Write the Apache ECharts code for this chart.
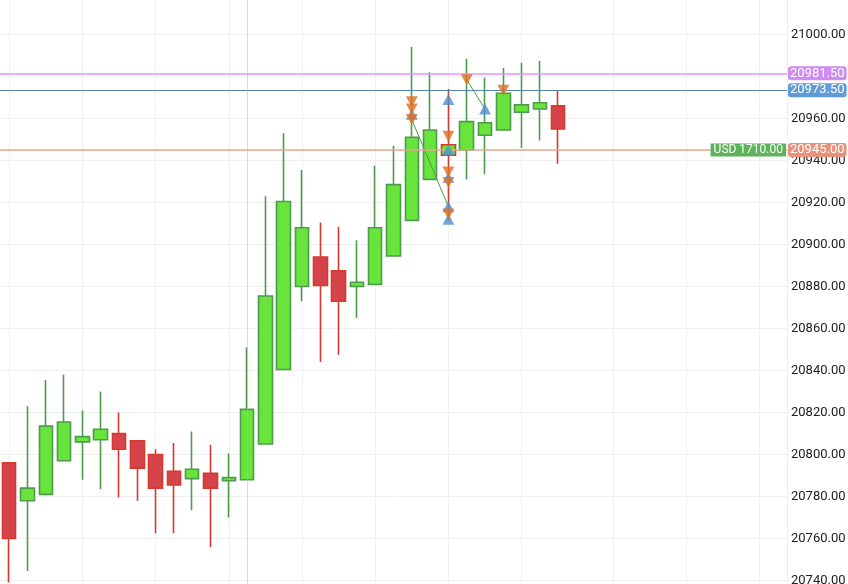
<!DOCTYPE html>
<html>
<head>
<meta charset="utf-8">
<script src="https://cdn.jsdelivr.net/npm/echarts@6/dist/echarts.min.js"></script>
<style>
html, body { margin: 0; padding: 0; background: #fff; }
#chart { width: 848px; height: 584px; }
</style>
</head>
<body>
<div id="chart"></div>
<script>
// candles: [open, close, low, high]
var candles = [
    [20796, 20760, 20739, 20796],
    [20778, 20784, 20744.5, 20823],
    [20781, 20813.5, 20780.5, 20835.5],
    [20797, 20815.5, 20797, 20838],
    [20806, 20808.5, 20788, 20821],
    [20807, 20812, 20783.5, 20830],
    [20810, 20802.5, 20779.5, 20820],
    [20806.5, 20793.5, 20778, 20806.5],
    [20800, 20784, 20762.5, 20802.5],
    [20792, 20785.5, 20762.5, 20805.5],
    [20788.5, 20793, 20773.5, 20811],
    [20791, 20784, 20756, 20804.5],
    [20787.5, 20789, 20770, 20800.5],
    [20788, 20821.5, 20788, 20851],
    [20805, 20875.5, 20805, 20923],
    [20840.5, 20920.5, 20840.5, 20953],
    [20880, 20908, 20873, 20935.5],
    [20894, 20880.5, 20844, 20910.5],
    [20887.5, 20873, 20847.5, 20908.5],
    [20880, 20882, 20865, 20902],
    [20881, 20908, 20881, 20937.5],
    [20894.5, 20928.5, 20894.5, 20947],
    [20911.5, 20951, 20911.5, 20994],
    [20931, 20954.5, 20931, 20982],
    [20942.5, 20947.5, 20911.5, 20974],
    [20945, 20958.5, 20931, 20988.5],
    [20952, 20958, 20933.5, 20979.5],
    [20954.5, 20972, 20954.5, 20984],
    [20963, 20966.5, 20946, 20986.5],
    [20964.5, 20967.5, 20949.5, 20987.5],
    [20966, 20955, 20938.5, 20973.5]
];
var redWick = [24];
var slotCount = 43;
var gridLineIdx = [0, 4, 8, 12, 16, 20, 24, 28, 33, 37, 41];
var crossIdx = 13;

// trade markers [index, price]
var buyMarks = [
    [22, 20962], [24, 20969], [24, 20945], [24, 20932], [24, 20918], [24, 20912],
    [26, 20964.5]
];
var sellMarks = [
    [22, 20968], [22, 20964.5], [22, 20959.5], [24, 20951.5], [24, 20934.5],
    [24, 20929.5], [24, 20914.5], [25, 20978.5], [27, 20973.5]
];
var tradeLine1 = [[22, 20959.5], [24, 20918]];
var tradeLine2 = [[25, 20978.5], [26, 20964.5]];

var askPrice = 20981.5;
var lastPrice = 20973.5;
var entryPrice = 20945;
var pnlText = 'USD 1710.00';

var yMin = 20720, yMax = 21020, yStep = 20;

var categories = [];
for (var i = 0; i < slotCount; i++) categories.push(String(i));

var candleData = candles.map(function (c, i) {
    if (redWick.indexOf(i) >= 0) {
        return { value: c, itemStyle: { borderColor: '#d8392c' } };
    }
    return { value: c };
});

var chart = echarts.init(document.getElementById('chart'));

var option = {
    animation: false,
    backgroundColor: '#ffffff',
    grid: { left: 0, right: 61, top: -7.5, bottom: -38.5, containLabel: false, outerBoundsMode: 'none' },
    xAxis: {
        type: 'category',
        data: categories,
        boundaryGap: true,
        axisLine: { show: false },
        axisTick: { show: false },
        axisLabel: { show: false },
        splitLine: { show: false }
    },
    yAxis: {
        type: 'value',
        position: 'right',
        min: yMin,
        max: yMax,
        interval: yStep,
        scale: true,
        axisLine: { show: true, lineStyle: { color: '#ededed' } },
        axisTick: { show: false },
        axisLabel: {
            margin: 4,
            color: '#222',
            fontFamily: 'Roboto',
            fontSize: 13,
            formatter: function (v) { return v.toFixed(2); }
        },
        splitLine: { lineStyle: { color: '#f0f0f0', width: 1 } }
    },
    series: [
        {
            // vertical grid lines
            type: 'line',
            data: [],
            silent: true,
            markLine: {
                z: 1,
                silent: true,
                symbol: 'none',
                label: { show: false },
                lineStyle: { color: '#f0f0f0', width: 1, type: 'solid' },
                data: gridLineIdx.map(function (k) { return { xAxis: k }; })
            }
        },
        {
            type: 'candlestick',
            data: candleData,
            barWidth: 14,
            clip: false,
            z: 2,
            itemStyle: {
                color: '#68e43d',
                color0: '#d5434b',
                borderColor: '#4e9b4b',
                borderColor0: '#d8392c',
                borderWidth: 1.6
            },
            markLine: {
                z: 5,
                silent: true,
                symbol: 'none',
                label: {
                    show: true,
                    position: 'end',
                    distance: 1,
                    color: '#fff',
                    fontFamily: 'Roboto',
                    fontSize: 13,
                    lineHeight: 13,
                    padding: [1, 2, 0, 2],
                    borderRadius: 3,
                    formatter: function (p) { return p.value.toFixed(2); }
                },
                data: [
                    { yAxis: askPrice, lineStyle: { color: '#d99af6', width: 1.5, type: 'solid' }, label: { backgroundColor: '#cf8cf2' } },
                    { yAxis: lastPrice, lineStyle: { color: '#5a84b0', width: 1, type: 'solid' }, label: { backgroundColor: '#5f9bd6' } },
                    { yAxis: entryPrice, lineStyle: { color: '#e9a590', width: 1.5, type: 'solid' }, label: { backgroundColor: '#e8927b' } },
                    { xAxis: crossIdx, lineStyle: { color: '#b8b8b8', width: 1, type: 'dotted' }, label: { show: false } }
                ]
            }
        },
        {
            type: 'line',
            data: tradeLine1,
            symbol: 'none',
            z: 4,
            lineStyle: { color: '#4e9b4b', width: 1 }
        },
        {
            type: 'line',
            data: tradeLine2,
            symbol: 'none',
            z: 4,
            lineStyle: { color: '#4e9b4b', width: 1 }
        },
        {
            type: 'scatter',
            data: buyMarks,
            symbol: 'triangle',
            symbolSize: [12, 11],
            z: 6,
            itemStyle: { color: '#4f8fd0' }
        },
        {
            type: 'scatter',
            data: sellMarks,
            symbol: 'triangle',
            symbolRotate: 180,
            symbolSize: [12, 11],
            z: 7,
            itemStyle: { color: '#e0701f' }
        }
    ]
};
chart.setOption(option);

// profit box sitting left of the entry price label
var py = chart.convertToPixel({ yAxisIndex: 0 }, entryPrice);
var gridRight = chart.getWidth() - 61;
chart.setOption({
    graphic: [{
        type: 'text',
        x: gridRight - 1,
        y: py,
        z: 10,
        style: {
            text: pnlText,
            fill: '#fff',
            font: '12px Roboto',
            align: 'right',
            verticalAlign: 'middle',
            backgroundColor: '#5cb35a',
            padding: [1, 3, 0, 3]
        }
    }]
});
</script>
</body>
</html>
